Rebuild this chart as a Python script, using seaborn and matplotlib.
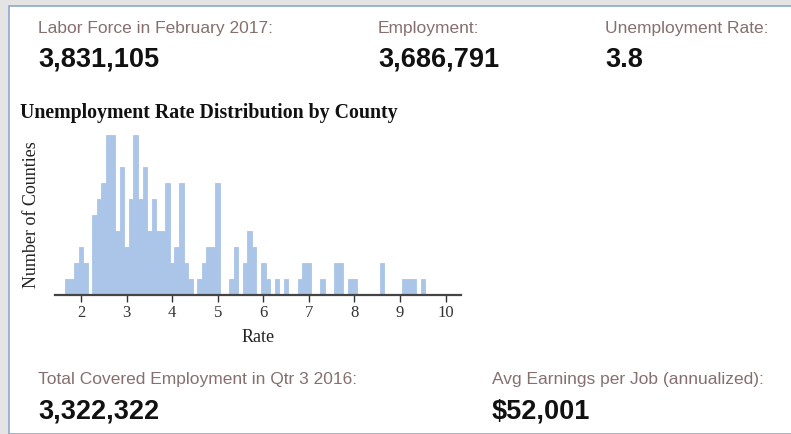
import matplotlib
matplotlib.use("Agg")
import matplotlib.pyplot as plt
from matplotlib.patches import Rectangle
import seaborn as sns

sns.set_theme(style="ticks")
plt.rcParams['font.family'] = ['Liberation Sans', 'DejaVu Sans']

# counties per unemployment rate (one decimal)
rates = [1.7, 1.8, 1.9, 2.0, 2.1, 2.3, 2.4, 2.5, 2.6, 2.7, 2.8, 2.9,
         3.0, 3.1, 3.2, 3.3, 3.4, 3.5, 3.6, 3.7, 3.8, 3.9,
         4.0, 4.1, 4.2, 4.3, 4.4, 4.6, 4.7, 4.8, 4.9,
         5.0, 5.3, 5.4, 5.6, 5.7, 5.8, 6.0, 6.1, 6.3, 6.5,
         6.8, 6.9, 7.0, 7.3, 7.6, 7.7, 7.9, 8.0, 8.6,
         9.1, 9.2, 9.3, 9.5]
counts = [1, 1, 2, 3, 2, 5, 6, 7, 10, 10, 4, 8,
          3, 6, 10, 6, 8, 4, 6, 4, 4, 7,
          2, 3, 7, 2, 1, 1, 2, 3, 3,
          7, 1, 3, 2, 4, 3, 2, 1, 1, 1,
          1, 2, 2, 1, 2, 2, 1, 1, 2,
          1, 1, 1, 1]
x_ticks = [2, 3, 4, 5, 6, 7, 8, 9, 10]

header_labels = ["Labor Force in February 2017:", "Employment:", "Unemployment Rate:"]
header_values = ["3,831,105", "3,686,791", "3.8"]
footer_labels = ["Total Covered Employment in Qtr 3 2016:", "Avg Earnings per Job (annualized):"]
footer_values = ["3,322,322", "$52,001"]

W, H = 791, 434
bar_color = "#abc5e8"
label_color = "#85706f"
serif = ["Liberation Serif", "DejaVu Serif"]


def fx(px):
    return px / W


def fy(px):
    return 1 - px / H


fig = plt.figure(figsize=(W / 100, H / 100), dpi=100, facecolor="#e4e4e4")
fig.patches.append(Rectangle((fx(8.5), 0), 1, fy(5.5), transform=fig.transFigure,
                             facecolor="white", edgecolor="#8ea9cc", linewidth=1.2,
                             zorder=-5))

# histogram
ax = fig.add_axes([fx(55), fy(295), fx(460.7) - fx(55), fy(134.7) - fy(295)])
ax.set_facecolor("white")
sns.histplot(x=rates, weights=counts, binwidth=0.1, binrange=(1.65, 9.55),
             color=bar_color, alpha=1, edgecolor=bar_color, linewidth=0.6, ax=ax)
ax.set_xlim(1.43, 10.33)
ax.set_ylim(0, 10)
ax.set_yticks([])
ax.set_xticks(x_ticks)
ax.tick_params(axis="x", direction="out", length=5, width=1, color="#333333",
               pad=2, labelsize=12, labelcolor="#333333")
for lab in ax.get_xticklabels():
    lab.set_family(serif)
sns.despine(ax=ax, left=True)
ax.spines["bottom"].set_linewidth(1.6)
ax.spines["bottom"].set_color("#444444")
ax.set_xlabel("Rate", family=serif, fontsize=13, color="#222222", labelpad=6)
ax.set_ylabel("Number of Counties", family=serif, fontsize=13, color="#222222")
ax.yaxis.set_label_coords(-(55 - 40) / 405.7, 0.5)

fig.text(fx(20), fy(118.3), "Unemployment Rate Distribution by County", family=serif,
         fontsize=14.3, fontweight="bold", color="#111111", va="baseline")

# summary figures
for x_px, lab, val in zip([38, 378, 605], header_labels, header_values):
    fig.text(fx(x_px), fy(33.3), lab, fontsize=12.5, color=label_color, va="baseline")
    fig.text(fx(x_px), fy(66.7), val, fontsize=19.5, fontweight="bold", color="#111111", va="baseline")

for x_px, lab, val in zip([38, 492], footer_labels, footer_values):
    fig.text(fx(x_px), fy(384), lab, fontsize=12.5, color=label_color, va="baseline")
    fig.text(fx(x_px), fy(418.3), val, fontsize=19.5, fontweight="bold", color="#111111", va="baseline")

fig.savefig("out.png", dpi=100, facecolor=fig.get_facecolor())
